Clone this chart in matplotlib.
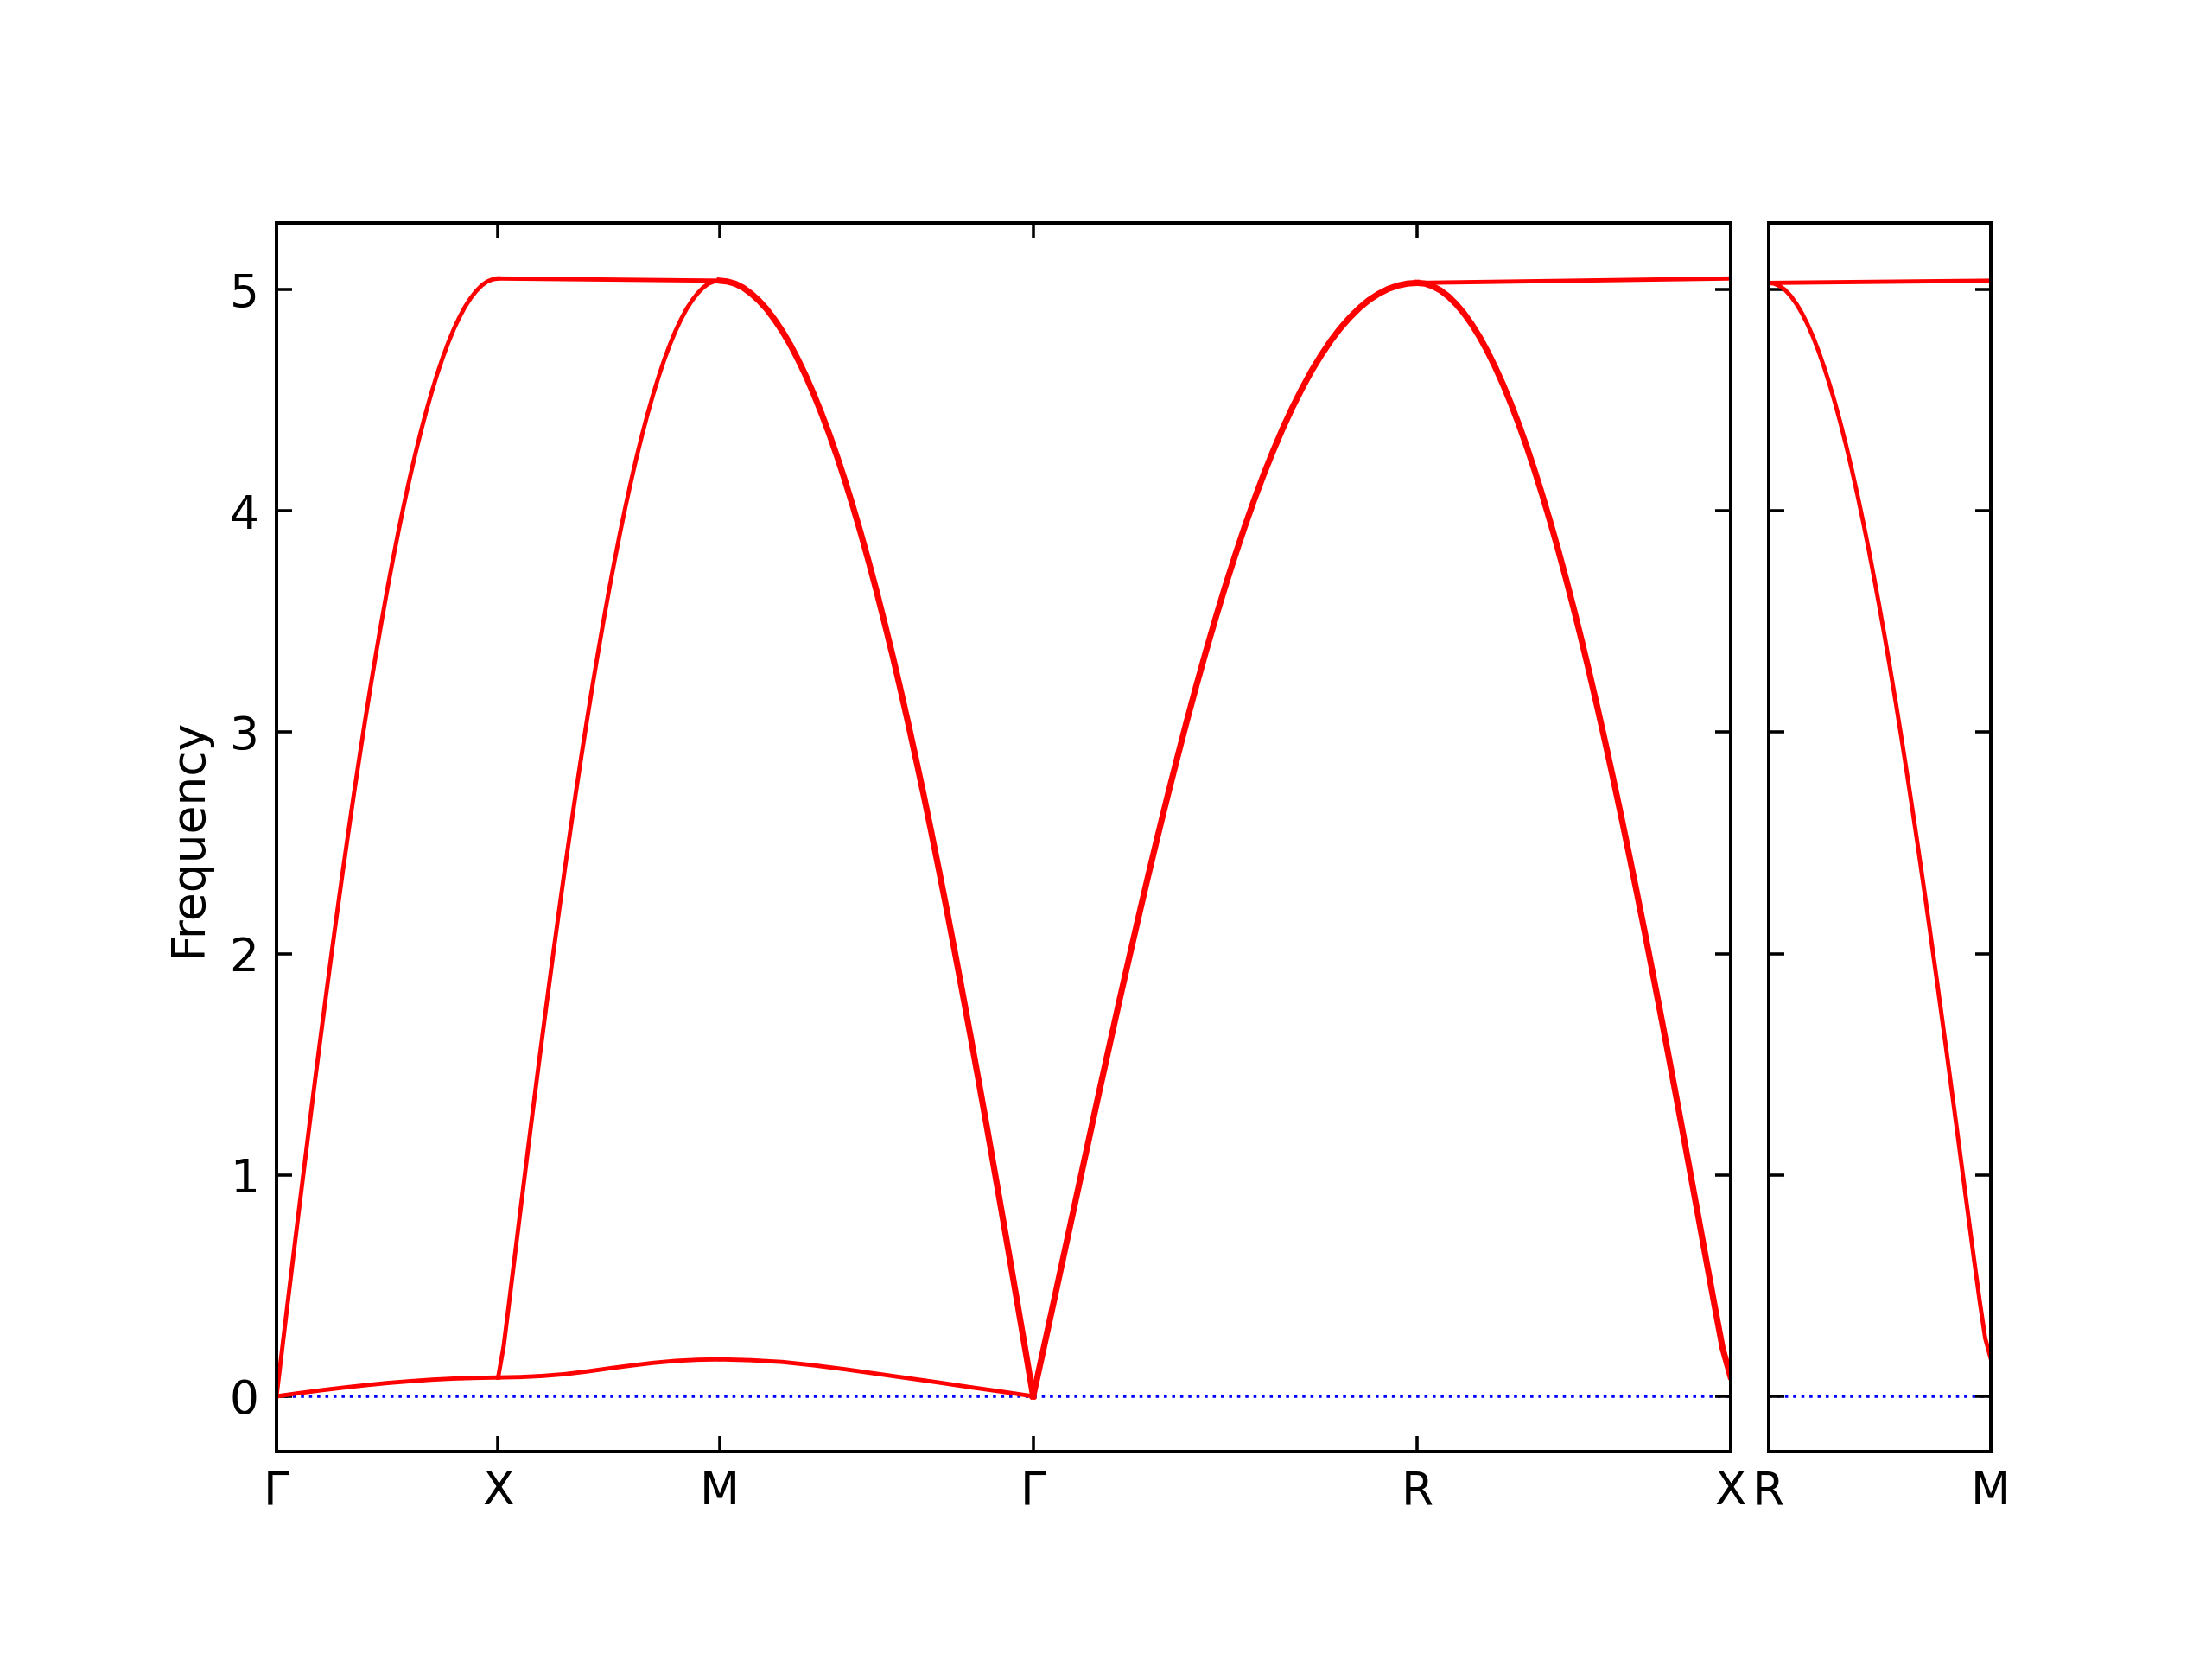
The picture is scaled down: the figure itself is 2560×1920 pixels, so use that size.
import numpy as np
import matplotlib
matplotlib.use("Agg")
import matplotlib.pyplot as plt

# ---------------- data ----------------
segment_names = ["Γ-X", "X-M", "M-Γ", "Γ-R", "R-X"]
segment_lengths = [1.0, 1.0, np.sqrt(2), np.sqrt(3), np.sqrt(2)]
main_tick_labels = ["Γ", "X", "M", "Γ", "R", "X"]
side_length = 1.0
side_tick_labels = ["R", "M"]

# Γ-X
gx_upper = [0.000, 0.210, 0.419, 0.626, 0.832, 1.035, 1.237, 1.436, 1.631, 1.823,
            2.012, 2.197, 2.378, 2.554, 2.726, 2.892, 3.054, 3.210, 3.361, 3.506,
            3.646, 3.779, 3.907, 4.028, 4.143, 4.251, 4.353, 4.448, 4.536, 4.618,
            4.692, 4.760, 4.821, 4.874, 4.921, 4.960, 4.992, 5.018, 5.036, 5.046,
            5.050]
gx_lower = [0.000, 0.014, 0.027, 0.039, 0.050, 0.060, 0.068, 0.075, 0.080, 0.083, 0.085]
# X-M
xm_flat = [5.050, 5.049, 5.048, 5.047, 5.046, 5.045, 5.044, 5.043, 5.042, 5.041, 5.040]
xm_rising = [0.085, 0.226, 0.427, 0.631, 0.835, 1.037, 1.237, 1.436, 1.630, 1.821,
             2.010, 2.194, 2.375, 2.550, 2.722, 2.888, 3.049, 3.205, 3.355, 3.500,
             3.640, 3.773, 3.900, 4.021, 4.135, 4.244, 4.345, 4.440, 4.528, 4.609,
             4.684, 4.751, 4.812, 4.865, 4.912, 4.951, 4.983, 5.009, 5.027, 5.037,
             5.040]
xm_lower = [0.085, 0.087, 0.092, 0.100, 0.112, 0.126, 0.139, 0.151, 0.160, 0.165, 0.167]
# M-Γ
mg_upper = [5.040, 5.036, 5.026, 5.008, 4.982, 4.950, 4.911, 4.864, 4.811, 4.751,
            4.683, 4.609, 4.527, 4.439, 4.345, 4.243, 4.135, 4.020, 3.899, 3.772,
            3.639, 3.499, 3.355, 3.204, 3.048, 2.886, 2.721, 2.549, 2.373, 2.193,
            2.008, 1.820, 1.628, 1.433, 1.235, 1.033, 0.830, 0.625, 0.418, 0.210,
            0.000]
mg_lower = [0.167, 0.163, 0.155, 0.140, 0.122, 0.102, 0.082, 0.062, 0.041, 0.021, 0.000]
# Γ-R
gr_all = [0.000, 0.198, 0.398, 0.599, 0.800, 1.000, 1.200, 1.399, 1.595, 1.790,
          1.981, 2.169, 2.354, 2.535, 2.711, 2.882, 3.049, 3.210, 3.365, 3.514,
          3.657, 3.793, 3.923, 4.046, 4.162, 4.270, 4.372, 4.466, 4.552, 4.632,
          4.703, 4.768, 4.825, 4.874, 4.917, 4.953, 4.981, 5.003, 5.018, 5.027,
          5.030]
# R-X
rx_flat = [5.030, 5.032, 5.034, 5.036, 5.038, 5.040, 5.042, 5.044, 5.046, 5.048, 5.050]
rx_falling = [5.030, 5.027, 5.015, 4.996, 4.969, 4.934, 4.892, 4.842, 4.785, 4.720,
              4.648, 4.569, 4.483, 4.390, 4.290, 4.183, 4.070, 3.951, 3.826, 3.695,
              3.558, 3.416, 3.268, 3.115, 2.958, 2.796, 2.630, 2.459, 2.285, 2.108,
              1.927, 1.743, 1.557, 1.368, 1.178, 0.985, 0.792, 0.598, 0.405, 0.217,
              0.090]
# R-M (side panel)
rm_flat = [5.030, 5.031, 5.032, 5.033, 5.034, 5.035, 5.036, 5.037, 5.038, 5.039, 5.040]
rm_falling = [5.030, 5.027, 5.016, 4.998, 4.971, 4.936, 4.894, 4.844, 4.787, 4.722,
              4.650, 4.571, 4.485, 4.392, 4.292, 4.186, 4.073, 3.954, 3.829, 3.698,
              3.561, 3.419, 3.271, 3.119, 2.962, 2.800, 2.634, 2.464, 2.290, 2.113,
              1.932, 1.749, 1.564, 1.376, 1.187, 0.996, 0.805, 0.615, 0.430, 0.261,
              0.170]

y_ticks = [0, 1, 2, 3, 4, 5]
y_limits = (-0.25, 5.3)

# ---------------- plotting ----------------
plt.rcParams['font.family'] = ['DejaVu Sans']
plt.rcParams['font.size'] = 12

fig = plt.figure(figsize=(8, 6), dpi=320)
ax1 = fig.add_axes([0.125, 0.125, 0.6573, 0.7405])
ax2 = fig.add_axes([0.7995, 0.125, 0.1005, 0.7405])

starts = np.concatenate([[0.0], np.cumsum(segment_lengths)])

def seg_x(i, vals):
    return np.linspace(starts[i], starts[i + 1], len(vals))

THIN = 1.1
THICK = 1.6
col = 'red'

# Γ-X
ax1.plot(seg_x(0, gx_upper), gx_upper, color=col, lw=THIN)
ax1.plot(seg_x(0, gx_lower), gx_lower, color=col, lw=THIN)
# X-M
ax1.plot(seg_x(1, xm_flat), xm_flat, color=col, lw=THIN)
ax1.plot(seg_x(1, xm_rising), xm_rising, color=col, lw=THIN)
ax1.plot(seg_x(1, xm_lower), xm_lower, color=col, lw=THIN)
# M-Γ
ax1.plot(seg_x(2, mg_upper), mg_upper, color=col, lw=THICK)
ax1.plot(seg_x(2, mg_lower), mg_lower, color=col, lw=THIN)
# Γ-R
ax1.plot(seg_x(3, gr_all), gr_all, color=col, lw=THICK)
# R-X
ax1.plot(seg_x(4, rx_flat), rx_flat, color=col, lw=THIN)
ax1.plot(seg_x(4, rx_falling), rx_falling, color=col, lw=THICK)

# side panel R-M
ax2.plot(np.linspace(0, side_length, len(rm_flat)), rm_flat, color=col, lw=THIN)
ax2.plot(np.linspace(0, side_length, len(rm_falling)), rm_falling, color=col, lw=THIN)

for ax in (ax1, ax2):
    ax.axhline(0, color='blue', lw=0.8, ls=':', zorder=1)
    ax.set_ylim(*y_limits)
    ax.set_yticks(y_ticks)
    ax.tick_params(direction='in', length=4, width=0.8, pad=4.6,
                   top=True, bottom=True, left=True, right=True)
    for s in ax.spines.values():
        s.set_linewidth(0.9)

ax1.set_xlim(starts[0], starts[-1])
ax1.set_xticks(starts)
ax1.set_xticklabels(main_tick_labels)
ax1.set_ylabel("Frequency", labelpad=5)

ax2.set_xlim(0, side_length)
ax2.set_xticks([0, side_length])
ax2.set_xticklabels(side_tick_labels)
ax2.set_yticklabels([])

fig.savefig("out.png", dpi=320)
